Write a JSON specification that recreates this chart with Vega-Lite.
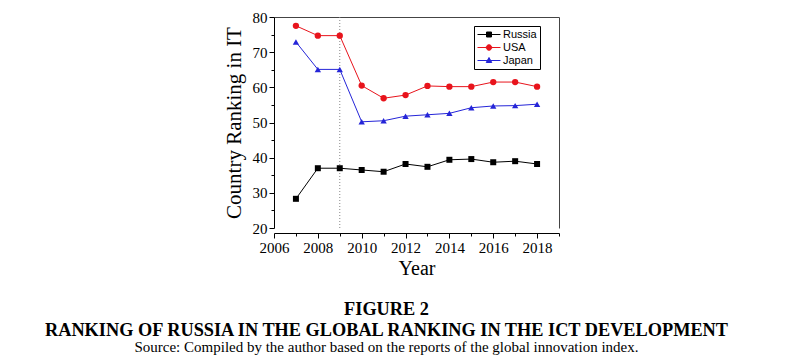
{
  "$schema": "https://vega.github.io/schema/vega-lite/v6.json",
  "width": 285,
  "height": 211,
  "autosize": "none",
  "padding": {"left": 274, "top": 17, "right": 236, "bottom": 132},
  "background": "white",
  "config": {
    "view": {"stroke": null},
    "axis": {
      "grid": false,
      "domainColor": "#000",
      "tickColor": "#000",
      "labelColor": "#000",
      "titleColor": "#000",
      "labelFont": "Liberation Serif",
      "titleFont": "Liberation Serif",
      "labelFontSize": 15,
      "titleFontSize": 21,
      "titleFontWeight": "normal"
    }
  },
  "title": {
    "text": ["FIGURE 2", "RANKING OF RUSSIA IN THE GLOBAL RANKING IN THE ICT DEVELOPMENT"],
    "subtitle": "Source: Compiled by the author based on the reports of the global innovation index.",
    "orient": "bottom",
    "anchor": "middle",
    "frame": "group",
    "dx": -30,
    "offset": 23,
    "font": "Liberation Serif",
    "fontSize": 18.3,
    "fontWeight": "bold",
    "lineHeight": 21,
    "color": "#000",
    "subtitleFont": "Liberation Serif",
    "subtitleFontSize": 15,
    "subtitleColor": "#000",
    "subtitlePadding": 0
  },
  "datasets": {
    "rank": [
      {"year": 2007, "country": "Russia", "value": 28.3},
      {"year": 2008, "country": "Russia", "value": 37.0},
      {"year": 2009, "country": "Russia", "value": 37.0},
      {"year": 2010, "country": "Russia", "value": 36.5},
      {"year": 2011, "country": "Russia", "value": 36.0},
      {"year": 2012, "country": "Russia", "value": 38.2},
      {"year": 2013, "country": "Russia", "value": 37.4},
      {"year": 2014, "country": "Russia", "value": 39.4},
      {"year": 2015, "country": "Russia", "value": 39.6},
      {"year": 2016, "country": "Russia", "value": 38.7},
      {"year": 2017, "country": "Russia", "value": 39.0},
      {"year": 2018, "country": "Russia", "value": 38.2},
      {"year": 2007, "country": "USA", "value": 77.5},
      {"year": 2008, "country": "USA", "value": 74.7},
      {"year": 2009, "country": "USA", "value": 74.7},
      {"year": 2010, "country": "USA", "value": 60.5},
      {"year": 2011, "country": "USA", "value": 56.9},
      {"year": 2012, "country": "USA", "value": 57.8},
      {"year": 2013, "country": "USA", "value": 60.4},
      {"year": 2014, "country": "USA", "value": 60.2},
      {"year": 2015, "country": "USA", "value": 60.2},
      {"year": 2016, "country": "USA", "value": 61.5},
      {"year": 2017, "country": "USA", "value": 61.5},
      {"year": 2018, "country": "USA", "value": 60.2},
      {"year": 2007, "country": "Japan", "value": 72.9},
      {"year": 2008, "country": "Japan", "value": 65.1},
      {"year": 2009, "country": "Japan", "value": 65.1},
      {"year": 2010, "country": "Japan", "value": 50.2},
      {"year": 2011, "country": "Japan", "value": 50.5},
      {"year": 2012, "country": "Japan", "value": 51.8},
      {"year": 2013, "country": "Japan", "value": 52.2},
      {"year": 2014, "country": "Japan", "value": 52.6},
      {"year": 2015, "country": "Japan", "value": 54.2},
      {"year": 2016, "country": "Japan", "value": 54.7},
      {"year": 2017, "country": "Japan", "value": 54.8},
      {"year": 2018, "country": "Japan", "value": 55.2}
    ],
    "marker": [{"year": 2009}]
  },
  "layer": [
    {
      "data": {"name": "marker"},
      "mark": {"type": "rule", "color": "#888", "strokeDash": [1, 2], "strokeWidth": 1},
      "encoding": {
        "x": {
          "field": "year",
          "type": "quantitative",
          "scale": {"domain": [2006, 2019], "nice": false, "zero": false},
          "axis": {
            "orient": "bottom",
            "offset": 5,
            "values": [2006, 2007, 2008, 2009, 2010, 2011, 2012, 2013, 2014, 2015, 2016, 2017, 2018, 2019],
            "format": "d",
            "labelExpr": "datum.value % 2 ? '' : datum.label",
            "tickSize": {"condition": {"test": "datum.value % 2 == 1", "value": 3}, "value": 5},
            "labelPadding": 2,
            "labelOverlap": false,
            "labelFlush": false,
            "title": "Year",
            "titleFontSize": 20,
            "titlePadding": 3
          }
        }
      }
    },
    {
      "data": {"name": "rank"},
      "mark": {"type": "line", "strokeWidth": 1},
      "encoding": {
        "x": {
          "field": "year",
          "type": "quantitative",
          "axis": {"orient": "top", "labels": false, "ticks": false, "title": null, "domainColor": "#444"}
        },
        "y": {
          "field": "value",
          "type": "quantitative",
          "scale": {"domain": [20, 80], "nice": false, "zero": false},
          "axis": {
            "orient": "left",
            "values": [20, 25, 30, 35, 40, 45, 50, 55, 60, 65, 70, 75, 80],
            "labelExpr": "datum.value % 10 ? '' : datum.label",
            "tickSize": {"condition": {"test": "datum.value % 10 != 0", "value": 3}, "value": 5},
            "labelPadding": 2,
            "labelOverlap": false,
            "labelFlush": false,
            "title": "Country Ranking in IT",
            "titlePadding": 8
          }
        },
        "color": {
          "field": "country",
          "type": "nominal",
          "scale": {"domain": ["Russia", "USA", "Japan"], "range": ["#000000", "#e8141c", "#2525d8"]},
          "legend": {
            "orient": "none",
            "legendX": 200,
            "legendY": 9,
            "title": null,
            "strokeColor": "#000",
            "padding": 3,
            "labelFont": "Liberation Sans",
            "labelFontSize": 11,
            "labelColor": "#000",
            "symbolSize": 100,
            "symbolOffset": 6.5,
            "symbolStrokeWidth": 1,
            "rowPadding": 1,
            "labelOffset": 8.5,
            "encode": {
              "symbols": {
                "update": {
                  "shape": {"signal": "datum.value === 'Russia' ? 'M-2.3,0H2.3M-0.5,-0.5H0.5V0.5H-0.5Z' : datum.value === 'USA' ? 'M-2.3,0H2.3M0.55,0A0.55,0.55,0,1,1,-0.55,0A0.55,0.55,0,1,1,0.55,0Z' : 'M-2.3,0H2.3M0,-0.6L0.55,0.4H-0.55Z'"},
                  "fill": {"scale": "color", "field": "value"},
                  "stroke": {"scale": "color", "field": "value"}
                }
              }
            }
          }
        }
      }
    },
    {
      "data": {"name": "rank"},
      "transform": [{"filter": "datum.country === 'Russia'"}],
      "mark": {"type": "point", "filled": true, "size": 36, "opacity": 1, "shape": "square", "color": "#000000"},
      "encoding": {
        "x": {"field": "year", "type": "quantitative", "axis": null},
        "y": {
          "field": "value",
          "type": "quantitative",
          "axis": {"orient": "right", "labels": false, "ticks": false, "title": null, "domainColor": "#444"}
        }
      }
    },
    {
      "data": {"name": "rank"},
      "transform": [{"filter": "datum.country === 'USA'"}],
      "mark": {"type": "point", "filled": true, "size": 40, "opacity": 1, "shape": "circle", "color": "#e8141c"},
      "encoding": {
        "x": {"field": "year", "type": "quantitative", "axis": null},
        "y": {"field": "value", "type": "quantitative", "axis": null}
      }
    },
    {
      "data": {"name": "rank"},
      "transform": [{"filter": "datum.country === 'Japan'"}],
      "mark": {"type": "point", "filled": true, "size": 40, "opacity": 1, "shape": "triangle-up", "color": "#2525d8"},
      "encoding": {
        "x": {"field": "year", "type": "quantitative", "axis": null},
        "y": {"field": "value", "type": "quantitative", "axis": null}
      }
    }
  ]
}
